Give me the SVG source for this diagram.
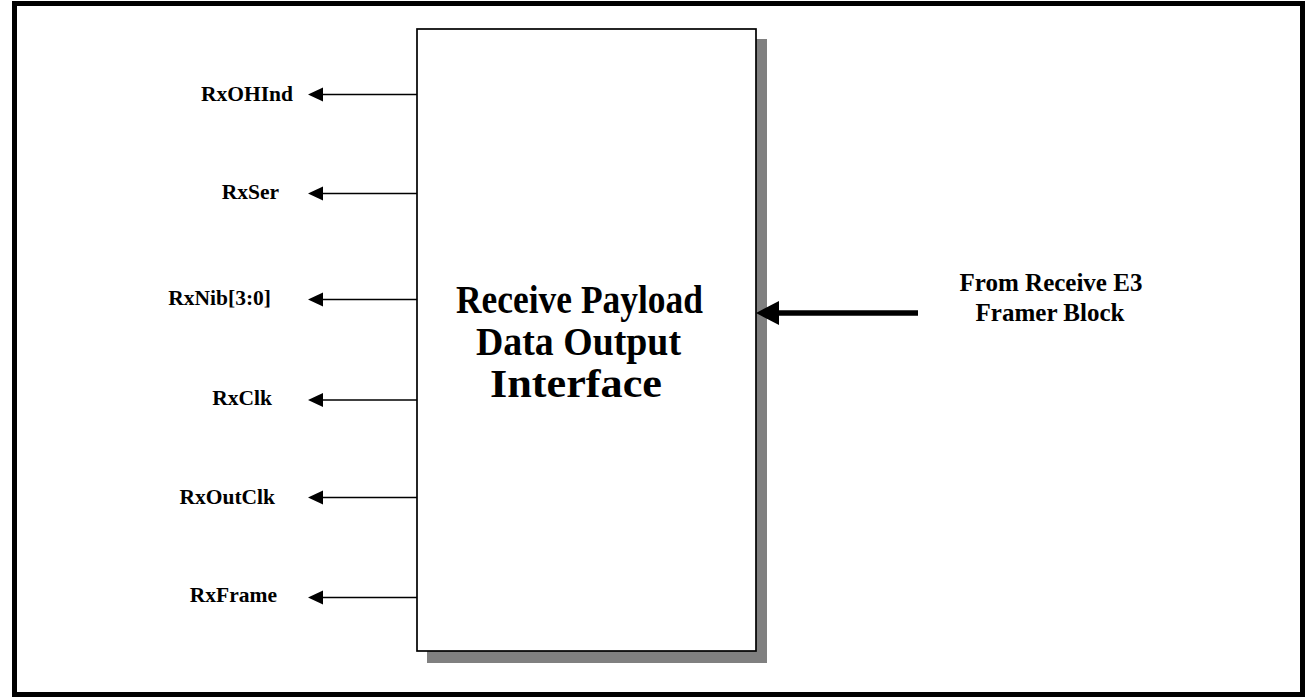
<svg xmlns="http://www.w3.org/2000/svg" width="1306" height="697" viewBox="0 0 1306 697">
<style>
.lbl{font-family:"Liberation Serif","Times New Roman",serif;font-weight:bold;font-size:21.5px;fill:#000;text-anchor:end}
.title{font-family:"Liberation Serif","Times New Roman",serif;font-weight:bold;font-size:39px;fill:#000;text-anchor:middle}
.src{font-family:"Liberation Serif","Times New Roman",serif;font-weight:bold;font-size:25px;fill:#000;text-anchor:middle}
.sig{stroke:#000;stroke-width:1.5;fill:none;marker-end:url(#ah)}
</style>
<defs>
<marker id="ah" viewBox="0 -8 16 16" refX="1" refY="0" markerWidth="16" markerHeight="16" markerUnits="userSpaceOnUse" orient="auto">
<path d="M0,-7 L15,0 L0,7 z" fill="#000"/>
</marker>
<marker id="ahBig" viewBox="0 -13 25 26" refX="1" refY="0" markerWidth="25" markerHeight="26" markerUnits="userSpaceOnUse" orient="auto">
<path d="M0,-12 L23,0 L0,12 z" fill="#000"/>
</marker>
</defs>
<rect x="0" y="0" width="1306" height="697" fill="#fff"/>
<rect id="frame" x="14.5" y="3.5" width="1288" height="691" fill="none" stroke="#000" stroke-width="5"/>
<g id="block">
<rect x="427" y="39" width="340" height="624" fill="#808080"/>
<rect x="417" y="29" width="339" height="622" fill="#fff" stroke="#000" stroke-width="1.7"/>
<text class="title" x="579.5" y="313" textLength="247" lengthAdjust="spacingAndGlyphs">Receive Payload</text>
<text class="title" x="578.5" y="355" textLength="205" lengthAdjust="spacingAndGlyphs">Data Output</text>
<text class="title" x="576" y="397" textLength="172" lengthAdjust="spacingAndGlyphs">Interface</text>
</g>
<g id="connectors">
<line class="sig" x1="417" y1="94.5" x2="322" y2="94.5"/>
<line class="sig" x1="417" y1="193.5" x2="322" y2="193.5"/>
<line class="sig" x1="417" y1="299.5" x2="322" y2="299.5"/>
<line class="sig" x1="417" y1="400" x2="322" y2="400"/>
<line class="sig" x1="417" y1="497.5" x2="322" y2="497.5"/>
<line class="sig" x1="417" y1="597.5" x2="322" y2="597.5"/>
<line x1="918" y1="313" x2="778" y2="313" stroke="#000" stroke-width="5.5" marker-end="url(#ahBig)"/>
</g>
<g id="sig-RxOHInd"><text class="lbl" x="293" y="101">RxOHInd</text></g>
<g id="sig-RxSer"><text class="lbl" x="279" y="199">RxSer</text></g>
<g id="sig-RxNib"><text class="lbl" x="271" y="305">RxNib[3:0]</text></g>
<g id="sig-RxClk"><text class="lbl" x="272" y="405">RxClk</text></g>
<g id="sig-RxOutClk"><text class="lbl" x="275" y="504">RxOutClk</text></g>
<g id="sig-RxFrame"><text class="lbl" x="277" y="602">RxFrame</text></g>
<g id="source">
<text class="src" x="1051" y="291">From Receive E3</text>
<text class="src" x="1050" y="321">Framer Block</text>
</g>
</svg>
